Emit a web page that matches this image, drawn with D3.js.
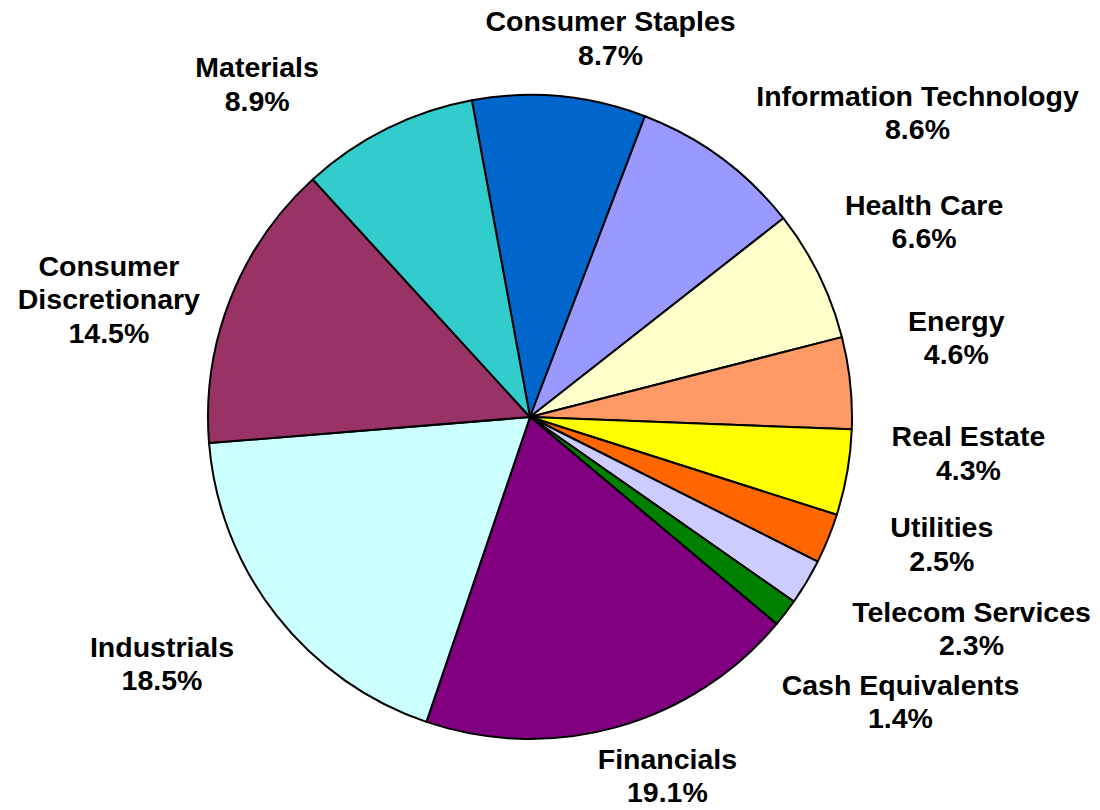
<!DOCTYPE html>
<html>
<head>
<meta charset="utf-8">
<script src="https://cdn.jsdelivr.net/npm/d3@7"></script>
<style>
  body { margin: 0; background: #fff; }
  .lbl { font-family: "Liberation Sans", Arial, sans-serif; font-weight: bold; font-size: 28.5px; fill: #000; }
</style>
</head>
<body>
<div id="chart"></div>
<script>
// sector weights, clockwise from the top
var categories = ["Consumer Staples", "Information Technology", "Health Care", "Energy",
    "Real Estate", "Utilities", "Telecom Services", "Cash Equivalents",
    "Financials", "Industrials", "Consumer Discretionary", "Materials"];
var weights = [8.7, 8.6, 6.6, 4.6, 4.3, 2.5, 2.3, 1.4, 19.1, 18.5, 14.5, 8.9];
var colors = ["#0066CC", "#9999FF", "#FFFFCC", "#FF9966", "#FFFF00", "#FF6600",
    "#CCCCFF", "#008000", "#800080", "#CCFFFF", "#993366", "#33CCCC"];

// hand placed label shifts (excel moved them around a bit)
var labelShift = [[36, 6], [55, 12], [-8, -23], [20, -39], [7, -31], [27, -20],
    [13, 11], [-34, 45], [21, -15], [-12, 4], [5, 31], [-82, 16]];

var svgWidth = 1100;
var svgHeight = 810;
var cx = 530, cy = 417, radius = 322;
var fontSize = 28.5, lineH = 33.3, capH = fontSize * 0.716;
var labelDist = 360;

var data = categories.map(function (c, i) {
    return { name: c, value: weights[i], color: colors[i], shift: labelShift[i] };
});

var svg = d3.select("#chart")
    .append("svg")
    .attr("width", svgWidth)
    .attr("height", svgHeight);

var start = -10.4 * Math.PI / 180;
var pie = d3.pie()
    .sort(null)
    .value(d => d.value)
    .startAngle(start)
    .endAngle(start + 2 * Math.PI);

var arc = d3.arc().innerRadius(0).outerRadius(radius);

var pieGroup = svg.append("g")
    .attr("transform", `translate(${cx},${cy})`);

var arcs = pie(data);

pieGroup.selectAll("path")
    .data(arcs)
    .enter()
    .append("path")
    .attr("d", arc)
    .attr("fill", d => d.data.color)
    .attr("stroke", "#000")
    .attr("stroke-width", 2)
    .attr("stroke-linejoin", "round");

var fmt = d3.format(".1f");

//labels
arcs.forEach(function (d) {
    var lines = d.data.name === "Consumer Discretionary"
        ? ["Consumer", "Discretionary"] : [d.data.name];
    lines = lines.concat([fmt(d.data.value) + "%"]);

    var g = svg.append("g");
    var texts = g.selectAll("text")
        .data(lines)
        .enter()
        .append("text")
        .attr("class", "lbl")
        .attr("text-anchor", "middle")
        .text(t => t);

    var w = 0;
    texts.each(function () { w = Math.max(w, this.getComputedTextLength()); });
    var h = (lines.length - 1) * lineH + capH;

    var a = (d.startAngle + d.endAngle) / 2;
    var ux = Math.sin(a), uy = -Math.cos(a);
    var m = Math.max(Math.abs(ux), Math.abs(uy));
    var px = cx + labelDist * ux, py = cy + labelDist * uy;
    var lx = px + w / 2 * ux / m + d.data.shift[0];
    var ly = py + h / 2 * uy / m + d.data.shift[1];

    texts.attr("x", lx)
        .attr("y", (t, i) => ly - h / 2 + capH + i * lineH);
});
</script>
</body>
</html>
